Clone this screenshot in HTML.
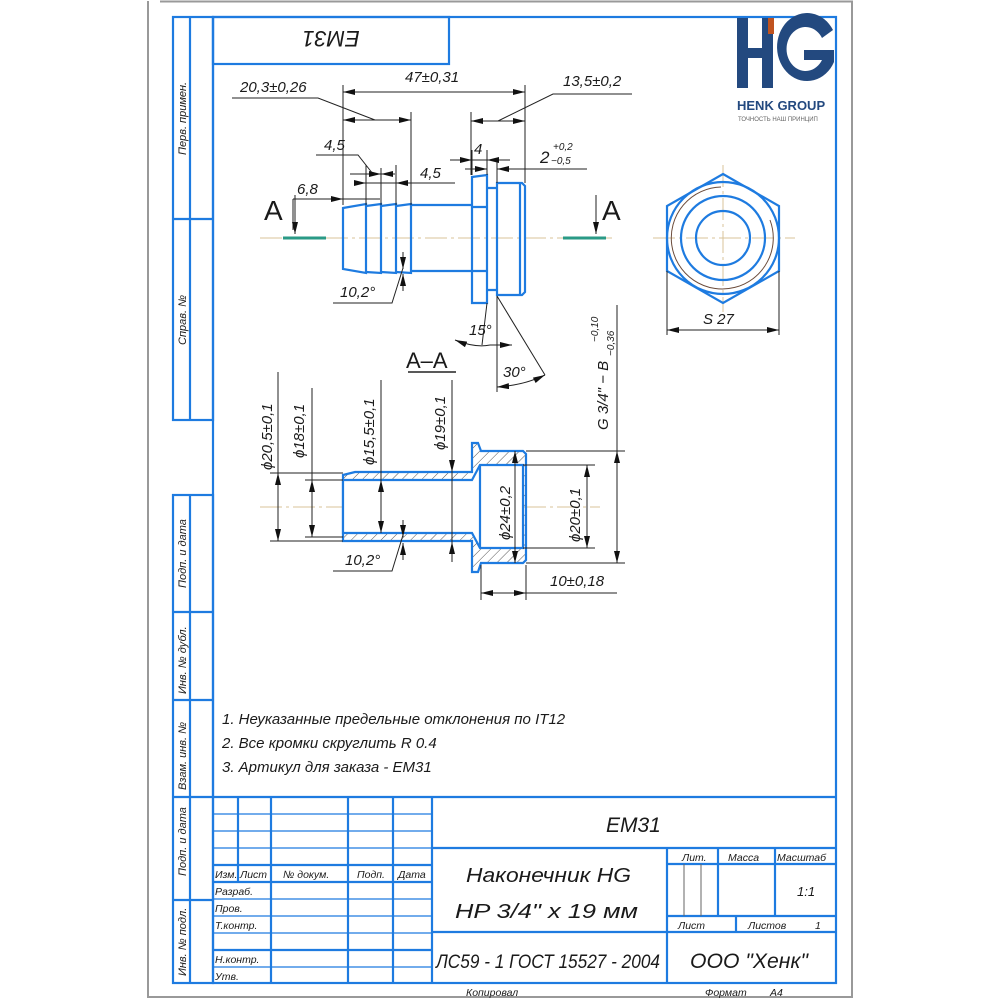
<!DOCTYPE html>
<html><head><meta charset="utf-8"><style>
html,body{margin:0;padding:0;background:#fff;}
svg{display:block;}
text{font-family:"Liberation Sans",sans-serif;font-style:italic;fill:#1a1a1a;}
</style></head><body>
<svg width="1000" height="1000" viewBox="0 0 1000 1000" xmlns="http://www.w3.org/2000/svg">
<defs>
<marker id="a" viewBox="0 0 12 6" refX="12" refY="3" markerWidth="12" markerHeight="6" markerUnits="userSpaceOnUse" orient="auto-start-reverse"><path d="M0,0 L12,3 L0,6 z" fill="#111"/></marker>
<pattern id="h" width="7" height="7" patternUnits="userSpaceOnUse" patternTransform="rotate(45)"><line x1="0" y1="0" x2="0" y2="7" stroke="#555" stroke-width="1"/></pattern>
</defs>
<path d="M160,1.5 H852 V997 H148 V1" fill="none" stroke="#999" stroke-width="2"/>
<g fill="none" stroke="#1e7be0" stroke-width="2.2">
<rect x="213" y="17" width="623" height="966"/>
<rect x="213" y="17" width="236" height="47"/>
<rect x="173" y="17" width="40" height="403"/>
<line x1="190" y1="17" x2="190" y2="420"/>
<line x1="173" y1="219" x2="213" y2="219"/>
<rect x="173" y="495" width="40" height="488"/>
<line x1="190" y1="495" x2="190" y2="983"/>
<line x1="173" y1="612" x2="213" y2="612"/>
<line x1="173" y1="700" x2="213" y2="700"/>
<line x1="173" y1="797" x2="213" y2="797"/>
<line x1="173" y1="900" x2="213" y2="900"/>
<line x1="213" y1="797" x2="836" y2="797"/>
<line x1="238" y1="797" x2="238" y2="882"/>
<line x1="271" y1="797" x2="271" y2="983"/>
<line x1="348" y1="797" x2="348" y2="983"/>
<line x1="393" y1="797" x2="393" y2="983"/>
<line x1="432" y1="797" x2="432" y2="983"/>
<line x1="432" y1="848" x2="836" y2="848"/>
<line x1="432" y1="932" x2="836" y2="932"/>
<line x1="667" y1="848" x2="667" y2="983"/>
<line x1="718" y1="848" x2="718" y2="916"/>
<line x1="775" y1="848" x2="775" y2="916"/>
<line x1="667" y1="864" x2="836" y2="864"/>
<line x1="667" y1="916" x2="836" y2="916"/>
<line x1="736" y1="916" x2="736" y2="932"/>
<line x1="213" y1="865" x2="432" y2="865"/>
<line x1="213" y1="882" x2="432" y2="882"/>
<line x1="213" y1="950" x2="432" y2="950"/>
</g>
<g stroke="#1e7be0" stroke-width="1.2">
<line x1="213" y1="814" x2="432" y2="814"/>
<line x1="213" y1="831" x2="432" y2="831"/>
<line x1="213" y1="848" x2="432" y2="848"/>
<line x1="213" y1="899" x2="432" y2="899"/>
<line x1="213" y1="916" x2="432" y2="916"/>
<line x1="213" y1="933" x2="432" y2="933"/>
<line x1="213" y1="967" x2="432" y2="967"/>
</g>
<g stroke="#666" stroke-width="1"><line x1="684" y1="864" x2="684" y2="916"/><line x1="701" y1="864" x2="701" y2="916"/></g>

<g font-size="11">
<text transform="translate(186,155) rotate(-90)">Перв. примен.</text>
<text transform="translate(186,345) rotate(-90)">Справ. №</text>
<text transform="translate(186,588) rotate(-90)">Подп. и дата</text>
<text transform="translate(186,694) rotate(-90)">Инв. № дубл.</text>
<text transform="translate(186,790) rotate(-90)">Взам. инв. №</text>
<text transform="translate(186,876) rotate(-90)">Подп. и дата</text>
<text transform="translate(186,976) rotate(-90)">Инв. № подл.</text>
</g>
<text transform="translate(331,31) rotate(180)" font-size="22" text-anchor="middle">EM31</text>

<g font-size="10.5">
<text x="215" y="878">Изм.</text><text x="240" y="878">Лист</text><text x="283" y="878">№ докум.</text><text x="357" y="878">Подп.</text><text x="398" y="878">Дата</text>
<text x="215" y="895">Разраб.</text><text x="215" y="912">Пров.</text><text x="215" y="929">Т.контр.</text><text x="215" y="963">Н.контр.</text><text x="215" y="980">Утв.</text>
<text x="682" y="861">Лит.</text><text x="728" y="861">Масса</text><text x="777" y="861">Масштаб</text>
<text x="678" y="929">Лист</text><text x="748" y="929">Листов</text><text x="815" y="929">1</text>
<text x="466" y="996">Копировал</text><text x="705" y="996">Формат</text><text x="770" y="996">A4</text>
</g>
<text x="606" y="832" font-size="21">EM31</text>
<text x="466" y="882" font-size="20" textLength="165" lengthAdjust="spacingAndGlyphs">Наконечник HG</text>
<text x="455" y="918" font-size="20" textLength="183" lengthAdjust="spacingAndGlyphs">HP 3/4" x 19 мм</text>
<text x="436" y="968" font-size="19" textLength="224" lengthAdjust="spacingAndGlyphs">ЛС59 - 1 ГОСТ 15527 - 2004</text>
<text x="690" y="968" font-size="21" textLength="118" lengthAdjust="spacingAndGlyphs">ООО "Хенк"</text>
<text x="797" y="896" font-size="13">1:1</text>

<g font-size="15">
<text x="222" y="724">1. Неуказанные предельные отклонения по IT12</text>
<text x="222" y="748">2. Все кромки скруглить R 0.4</text>
<text x="222" y="772">3. Артикул для заказа - EM31</text>
</g>

<g fill="#23497f">
<rect x="737" y="18" width="11" height="70"/><rect x="762" y="18" width="11" height="70"/><rect x="742" y="48" width="30" height="10"/>
<path d="M833,30 A30,34 0 1 0 834,62 L834,50 L804,50 L804,60 L822,60 A19,22 0 1 1 822,38 Z"/>
</g>
<rect x="768" y="18" width="6" height="16" fill="#c0531f"/>
<text x="737" y="110" font-size="13" font-weight="bold" style="font-style:normal;fill:#23497f">HENK GROUP</text>
<text x="738" y="121" font-size="6" style="font-style:normal;fill:#666">ТОЧНОСТЬ НАШ ПРИНЦИП</text>

<g stroke="#d9c39a" stroke-width="1" stroke-dasharray="22,4,3,4">
<line x1="260" y1="238" x2="615" y2="238"/>
<line x1="260" y1="507" x2="600" y2="507"/>
<line x1="653" y1="238" x2="795" y2="238"/>
<line x1="723" y1="165" x2="723" y2="312"/>
</g>
<g stroke="#2a9a86" stroke-width="3"><line x1="283" y1="238" x2="326" y2="238"/><line x1="563" y1="238" x2="606" y2="238"/></g>

<g fill="none" stroke="#1e7be0" stroke-width="2.2">
<path d="M343,208 L366,204 L366,273 L343,269 Z"/>
<path d="M366,206 L381,204 L381,273 L366,272"/>
<path d="M381,206 L396,204 L396,273 L381,272"/>
<path d="M396,206 L411,204 L411,273 L396,272"/>
<path d="M411,205 H472 M411,271 H472"/>
<path d="M472,177 L487,175 L487,303 L472,303 Z M472,207 H487 M472,271 H487"/>
<path d="M487,188 H497 M487,290 H497"/>
<path d="M497,183 H522 L525,186 V292 L522,295 H497 Z M520,183 V295"/>
</g>
<g fill="none" stroke="#1e7be0" stroke-width="2.2">
<polygon points="723,174 779,206 779,271 723,303 667,271 667,206"/>
<circle cx="723" cy="238" r="56"/>
<circle cx="723" cy="238" r="42"/>
<circle cx="723" cy="238" r="27"/>
</g>
<path d="M721,187 A51,51 0 1 0 770,220" fill="none" stroke="#6b4b3a" stroke-width="1"/>

<g stroke="#1e7be0" stroke-width="2.2">
<path d="M343,475 L355,472 L472,472 L472,443 L478,443 L481,451 L523,451 L526,454 L526,560 L523,563 L481,563 L478,572 L472,572 L472,541 L343,541 Z" fill="url(#h)"/>
<path d="M343,480 H472 L480,465 H523 V548 H480 L472,533 H343 Z" fill="#fff"/>
<line x1="480" y1="465" x2="480" y2="548"/>
</g>

<g stroke="#222" stroke-width="1" fill="none">
<path d="M343,85 V205 M525,85 V183 M411,112 V205 M471,112 V175"/>
<line x1="343" y1="92" x2="525" y2="92" marker-start="url(#a)" marker-end="url(#a)"/>
<line x1="343" y1="120" x2="411" y2="120" marker-start="url(#a)" marker-end="url(#a)"/>
<path d="M232,98 H318 L375,120"/>
<line x1="471" y1="121" x2="525" y2="121" marker-start="url(#a)" marker-end="url(#a)"/>
<path d="M498,121 L553,94 H632"/>
<path d="M316,155 H358 L373,174"/>
<path d="M366,165 V205 M381,168 V205 M396,165 V205"/>
<line x1="350" y1="174" x2="381" y2="174" marker-end="url(#a)"/>
<line x1="395" y1="174" x2="381" y2="174" marker-end="url(#a)"/>
<line x1="355" y1="183" x2="366" y2="183" marker-end="url(#a)"/>
<line x1="396" y1="183" x2="411" y2="183" marker-start="url(#a)"/>
<path d="M396,183 H366 M411,183 H455"/>
<line x1="293" y1="199" x2="343" y2="199" marker-end="url(#a)"/>
<path d="M343,199 H380 M293,199 V230"/>
<line x1="295" y1="195" x2="295" y2="234" marker-end="url(#a)"/>
<line x1="596" y1="195" x2="596" y2="234" marker-end="url(#a)"/>
<path d="M472,150 V175 M487,150 V175 M497,160 V183"/>
<line x1="450" y1="160" x2="472" y2="160" marker-end="url(#a)"/>
<line x1="510" y1="160" x2="487" y2="160" marker-end="url(#a)"/>
<path d="M472,160 H487"/>
<line x1="465" y1="169" x2="487" y2="169" marker-end="url(#a)"/>
<line x1="520" y1="169" x2="497" y2="169" marker-end="url(#a)"/>
<path d="M520,169 H587"/>
<path d="M333,303 H392 L403,268"/>
<line x1="403" y1="252" x2="403" y2="269" marker-end="url(#a)"/>
<line x1="403" y1="291" x2="403" y2="274" marker-end="url(#a)"/>
<path d="M487,303 L482,345 M497,296 V392 M497,296 L545,375"/>
<path d="M455,340 Q475,348 490,345" marker-start="url(#a)"/>
<path d="M512,345 L490,345" marker-start="url(#a)"/>
<path d="M497,387 Q525,385 545,375" marker-start="url(#a)" marker-end="url(#a)"/>
<line x1="408" y1="372" x2="456" y2="372" stroke-width="1.5"/>
<path d="M667,271 V335 M779,271 V335"/>
<line x1="667" y1="330" x2="779" y2="330" marker-start="url(#a)" marker-end="url(#a)"/>
<path d="M270,473 H343 M270,541 H343 M305,480 H343 M305,537 H343"/>
<line x1="278" y1="473" x2="278" y2="541" marker-start="url(#a)" marker-end="url(#a)"/>
<path d="M278,372 V473 M312,388 V480"/>
<line x1="312" y1="480" x2="312" y2="537" marker-start="url(#a)" marker-end="url(#a)"/>
<path d="M381,380 V480"/>
<line x1="381" y1="480" x2="381" y2="533" marker-start="url(#a)" marker-end="url(#a)"/>
<line x1="452" y1="380" x2="452" y2="472" marker-end="url(#a)"/>
<line x1="452" y1="562" x2="452" y2="542" marker-end="url(#a)"/>
<path d="M452,542 V472"/>
<path d="M333,571 H392 L403,535"/>
<line x1="403" y1="520" x2="403" y2="537" marker-end="url(#a)"/>
<line x1="403" y1="560" x2="403" y2="543" marker-end="url(#a)"/>
<line x1="515" y1="451" x2="515" y2="563" marker-start="url(#a)" marker-end="url(#a)"/>
<path d="M523,465 H595 M523,548 H595 M526,451 H625 M526,563 H625"/>
<line x1="587" y1="465" x2="587" y2="548" marker-start="url(#a)" marker-end="url(#a)"/>
<path d="M617,305 V451"/>
<line x1="617" y1="451" x2="617" y2="563" marker-start="url(#a)" marker-end="url(#a)"/>
<path d="M481,565 V600 M526,565 V600"/>
<line x1="481" y1="593" x2="526" y2="593" marker-start="url(#a)" marker-end="url(#a)"/>
<path d="M526,593 H617"/>
</g>

<g font-size="15">
<text x="240" y="92">20,3±0,26</text>
<text x="405" y="82">47±0,31</text>
<text x="563" y="86">13,5±0,2</text>
<text x="324" y="150">4,5</text>
<text x="420" y="178">4,5</text>
<text x="297" y="194">6,8</text>
<text x="474" y="154">4</text>
<text x="540" y="163" font-size="17">2</text>
<text x="553" y="150" font-size="10">+0,2</text>
<text x="551" y="164" font-size="10">−0,5</text>
<text x="340" y="297">10,2°</text>
<text x="469" y="335">15°</text>
<text x="503" y="377">30°</text>
<text x="406" y="368" font-size="22" style="font-style:normal">A–A</text>
<text x="264" y="220" font-size="28" style="font-style:normal">A</text>
<text x="602" y="220" font-size="28" style="font-style:normal">A</text>
<text x="703" y="324">S 27</text>
<text x="345" y="565">10,2°</text>
<text x="550" y="586">10±0,18</text>
</g>
<g font-size="15">
<text transform="translate(272,470) rotate(-90)">ϕ20,5±0,1</text>
<text transform="translate(304,458) rotate(-90)">ϕ18±0,1</text>
<text transform="translate(374,465) rotate(-90)">ϕ15,5±0,1</text>
<text transform="translate(445,450) rotate(-90)">ϕ19±0,1</text>
<text transform="translate(510,540) rotate(-90)">ϕ24±0,2</text>
<text transform="translate(580,542) rotate(-90)">ϕ20±0,1</text>
<text transform="translate(608,430) rotate(-90)">G 3/4" − B</text>
</g>
<text transform="translate(598,342) rotate(-90)" font-size="10">−0,10</text>
<text transform="translate(614,356) rotate(-90)" font-size="10">−0,36</text>
</svg>
</body></html>
